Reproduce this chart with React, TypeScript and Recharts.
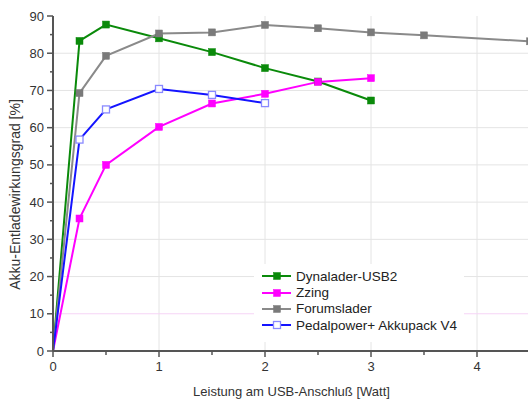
import { Line, LineChart, ReferenceLine, XAxis, YAxis } from 'recharts';

const dynaladerX = [0, 0.25, 0.5, 1, 1.5, 2, 2.5, 3];
const dynaladerY = [0, 83.3, 87.7, 84.0, 80.3, 76.0, 72.4, 67.3];

const zzingX = [0, 0.25, 0.5, 1, 1.5, 2, 2.5, 3];
const zzingY = [0, 35.6, 50.0, 60.2, 66.5, 69.1, 72.3, 73.3];

const forumsladerX = [0, 0.25, 0.5, 1, 1.5, 2, 2.5, 3, 3.5, 4.5];
const forumsladerY = [0, 69.3, 79.3, 85.3, 85.6, 87.6, 86.7, 85.6, 84.8, 83.2];

const pedalpowerX = [0, 0.25, 0.5, 1, 1.5, 2];
const pedalpowerY = [0, 56.8, 64.9, 70.4, 68.8, 66.6];

const xTicks = [0, 0.5, 1, 1.5, 2, 2.5, 3, 3.5, 4, 4.5];
const yTicks = [0, 5, 10, 15, 20, 25, 30, 35, 40, 45, 50, 55, 60, 65, 70, 75, 80, 85, 90];
const xGrid = [1, 2, 3, 4];
const yGrid = [20, 30, 40, 50, 60, 70, 80];

const toPoints = (xs: number[], ys: number[]) => xs.map((x, i) => ({ x, y: ys[i] }));

const series = [
  { name: 'Dynalader-USB2', data: toPoints(dynaladerX, dynaladerY), color: '#0a8a0a', marker: '#0a8a0a', open: false },
  { name: 'Zzing', data: toPoints(zzingX, zzingY), color: '#ff00ff', marker: '#ff00ff', open: false },
  { name: 'Forumslader', data: toPoints(forumsladerX, forumsladerY), color: '#8a8a8a', marker: '#7a7a7a', open: false },
  { name: 'Pedalpower+ Akkupack V4', data: toPoints(pedalpowerX, pedalpowerY), color: '#1414ff', marker: '#8a8aff', open: true },
];

const AXIS = '#555';
const TEXT = '#333';
const FONT = 'Liberation Sans, Arial, sans-serif';

const isMajor = (v: number, step: number) => Math.abs(v / step - Math.round(v / step)) < 1e-6;

function BottomTick({ x, y, payload }: any) {
  const major = isMajor(payload.value, 1);
  return (
    <g>
      <line x1={x} x2={x} y1={y} y2={y + (major ? 6 : 4)} stroke={AXIS} strokeWidth={1.5} />
      {major && (
        <text x={x} y={y + 20} textAnchor="middle" fontSize={13} fill={TEXT} fontFamily={FONT}>
          {payload.value}
        </text>
      )}
    </g>
  );
}

function TopTick({ x, y, payload }: any) {
  const major = isMajor(payload.value, 1);
  return <line x1={x} x2={x} y1={y} y2={y + (major ? 6 : 5)} stroke={AXIS} strokeWidth={1.5} />;
}

function LeftTick({ x, y, payload }: any) {
  const major = isMajor(payload.value, 10);
  return (
    <g>
      <line x1={x - (major ? 6 : 3)} x2={x} y1={y} y2={y} stroke={AXIS} strokeWidth={1.5} />
      {major && (
        <text x={x - 9} y={y + 4.5} textAnchor="end" fontSize={13} fill={TEXT} fontFamily={FONT}>
          {payload.value}
        </text>
      )}
    </g>
  );
}

function RightTick({ x, y, payload }: any) {
  const major = isMajor(payload.value, 10);
  return <line x1={x - (major ? 6 : 3)} x2={x} y1={y} y2={y} stroke={AXIS} strokeWidth={1.5} />;
}

const squareDot = (fill: string, open: boolean) => (props: any) => {
  const { cx, cy, payload, index } = props;
  if (payload.x === 0 || cx == null) return <g key={index} />;
  return (
    <rect
      key={index}
      x={cx - 3.5}
      y={cy - 3.5}
      width={7}
      height={7}
      fill={open ? '#fff' : fill}
      stroke={fill}
      strokeWidth={open ? 1.3 : 0.5}
    />
  );
};

function LegendBox() {
  return (
    <div
      style={{
        position: 'absolute',
        left: 254,
        top: 264,
        width: 210,
        height: 78,
        background: '#fff',
        fontFamily: FONT,
        fontSize: 13.5,
        color: '#222',
        paddingTop: 4,
        boxSizing: 'border-box',
      }}
    >
      {series.map((s) => (
        <div key={s.name} style={{ display: 'flex', alignItems: 'center', height: 16.4 }}>
          <svg width={42} height={16} style={{ flex: 'none' }}>
            <line x1={8} x2={37} y1={8} y2={8} stroke={s.color} strokeWidth={2} />
            <rect x={19.5} y={4.5} width={7} height={7} fill={s.open ? '#fff' : s.marker} stroke={s.marker} strokeWidth={s.open ? 1.3 : 0.5} />
          </svg>
          <span>{s.name}</span>
        </div>
      ))}
    </div>
  );
}

export default function App() {
  return (
    <div style={{ position: 'absolute', left: 0, top: 0, width: 528, height: 400, overflow: 'hidden', background: '#fff' }}>
      <LineChart width={560} height={400} margin={{ top: 16, right: 30, bottom: 0, left: 0 }}>
        <XAxis
          xAxisId="bottom"
          dataKey="x"
          type="number"
          domain={[0, 4.5]}
          ticks={xTicks}
          interval={0}
          allowDataOverflow
          height={49}
          tickLine={false}
          tickSize={0}
          tickMargin={0}
          tick={<BottomTick />}
          axisLine={{ stroke: AXIS, strokeWidth: 2 }}
          label={{ value: 'Leistung am USB-Anschluß [Watt]', position: 'insideBottom', offset: 4, style: { fontSize: 13, fill: TEXT, fontFamily: FONT } }}
        />
        <XAxis
          xAxisId="top"
          orientation="top"
          dataKey="x"
          type="number"
          domain={[0, 4.5]}
          ticks={xTicks}
          interval={0}
          allowDataOverflow
          height={0}
          tickLine={false}
          tickSize={0}
          tickMargin={0}
          tick={<TopTick />}
          axisLine={{ stroke: AXIS, strokeWidth: 2 }}
        />
        <YAxis
          yAxisId="left"
          type="number"
          domain={[0, 90]}
          ticks={yTicks}
          interval={0}
          width={53}
          tickLine={false}
          tickSize={0}
          tickMargin={0}
          tick={<LeftTick />}
          axisLine={{ stroke: AXIS, strokeWidth: 2 }}
          label={{ value: 'Akku-Entladewirkungsgrad [%]', angle: -90, position: 'insideLeft', offset: 15, dy: 11, style: { textAnchor: 'middle', fontSize: 14, fill: TEXT, fontFamily: FONT } }}
        />
        <YAxis
          yAxisId="right"
          orientation="right"
          type="number"
          domain={[0, 90]}
          ticks={yTicks}
          interval={0}
          width={0}
          tickLine={false}
          tickSize={0}
          tickMargin={0}
          tick={<RightTick />}
          axisLine={{ stroke: AXIS, strokeWidth: 2 }}
        />
        {xGrid.map((v) => (
          <ReferenceLine key={'vx' + v} xAxisId="bottom" yAxisId="left" x={v} stroke="#e4e4e4" strokeWidth={1} />
        ))}
        {yGrid.map((v) => (
          <ReferenceLine key={'hy' + v} xAxisId="bottom" yAxisId="left" y={v} stroke="#e4e4e4" strokeWidth={1} />
        ))}
        <ReferenceLine xAxisId="bottom" yAxisId="left" y={10} stroke="#f6d4f6" strokeWidth={1} />
        {series.map((s) => (
          <Line
            key={s.name}
            xAxisId="bottom"
            yAxisId="left"
            data={s.data}
            dataKey="y"
            name={s.name}
            stroke={s.color}
            strokeWidth={2}
            dot={squareDot(s.marker, s.open)}
            activeDot={false}
            isAnimationActive={false}
          />
        ))}
      </LineChart>
      <LegendBox />
    </div>
  );
}
